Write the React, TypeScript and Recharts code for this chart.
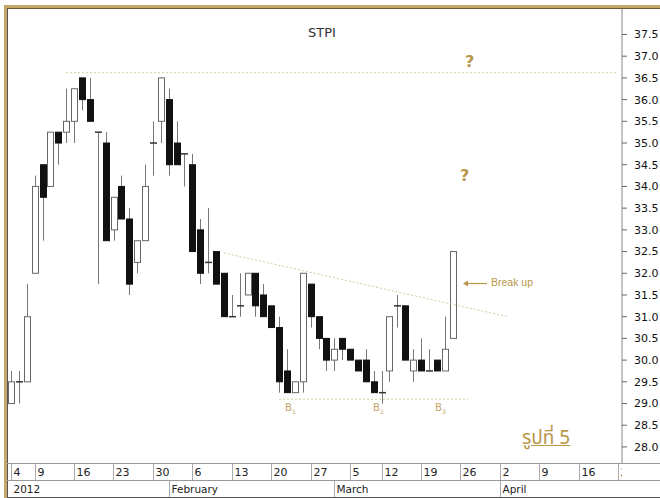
import { ComposedChart, Bar, XAxis, YAxis, ReferenceLine } from 'recharts';

// chart box
const W = 660;
const H = 498;
const PLOT_LEFT = 7;
const PLOT_TOP = 8;
const Y_AXIS_W = 38;
const X_ROW_H = 17;
const PLOT_RIGHT = W - Y_AXIS_W;
const PLOT_BOTTOM = H - 1 - 2 * X_ROW_H;

// daily STPI prices, trading days from 4 Jan 2012
const opens = [
  29.0, 29.5, 29.5, 32.0, 34.5, 34.0, 35.25, 35.25, 35.5, 36.5,
  36.0, 35.25, 35.0, 33.0, 34.0, 33.25, 32.25, 32.75, 35.0, 35.5,
  36.0, 35.0, 34.75, 34.5, 33.0, 32.25, 32.5, 32.0, 31.0, 31.25,
  31.5, 32.0, 31.5, 31.25, 30.75, 29.75, 29.25, 29.5, 31.75, 31.0,
  30.5, 30.0, 30.5, 30.25, 30.0, 30.0, 29.5, 29.25, 29.75, 31.25,
  31.25, 29.75, 30.0, 29.75, 30.0, 29.75, 30.5,
];
const highs = [
  29.75, 29.75, 31.75, 34.25, 34.5, 35.25, 35.25, 36.25, 36.25, 36.5,
  36.5, 35.25, 35.25, 33.75, 34.25, 33.5, 32.75, 34.5, 35.5, 36.5,
  36.25, 35.5, 34.75, 34.75, 33.25, 33.5, 32.5, 32.0, 31.5, 32.0,
  32.0, 32.0, 31.75, 31.25, 31.0, 30.25, 29.5, 32.0, 31.75, 31.0,
  30.5, 30.5, 30.5, 30.25, 30.0, 30.25, 29.75, 29.75, 31.0, 31.5,
  31.25, 30.25, 30.5, 30.25, 30.0, 31.0, 32.5,
];
const lows = [
  29.0, 29.0, 29.5, 32.0, 32.75, 34.0, 34.5, 35.0, 35.0, 35.75,
  35.5, 31.75, 32.75, 32.75, 33.25, 31.5, 32.0, 32.75, 34.25, 35.0,
  34.25, 34.5, 34.0, 32.5, 31.75, 32.0, 31.75, 31.0, 31.0, 31.0,
  31.5, 31.0, 31.0, 30.75, 29.25, 29.25, 29.25, 29.25, 30.75, 30.25,
  29.75, 29.75, 30.0, 30.0, 29.75, 29.5, 29.25, 29.0, 29.5, 30.75,
  30.0, 29.5, 29.75, 29.75, 29.75, 29.75, 30.5,
];
const closes = [
  29.5, 29.5, 31.0, 34.0, 33.75, 35.25, 35.0, 35.5, 36.25, 36.0,
  35.5, 35.25, 32.75, 33.75, 33.25, 31.75, 32.75, 34.0, 35.0, 36.5,
  34.5, 34.5, 34.75, 32.5, 32.0, 32.25, 31.75, 31.0, 31.0, 31.25,
  32.0, 31.25, 31.0, 30.75, 29.5, 29.25, 29.5, 32.0, 31.0, 30.5,
  30.0, 30.25, 30.25, 30.0, 29.75, 29.5, 29.25, 29.25, 31.0, 31.25,
  30.0, 30.0, 29.75, 29.75, 29.75, 30.25, 32.5,
];

// axis slots run on to late April
const TOTAL_DAYS = 78;
const weekTickIdx = [0, 3, 8, 13, 18, 23, 28, 33, 38, 43, 47, 52, 57, 62, 67, 72, 77];
const weekTickLabels = ['4', '9', '16', '23', '30', '6', '13', '20', '27', '5', '12', '19', '26', '2', '9', '16', '23'];
const monthTickIdx = [0, 20, 41, 62];
const monthTickLabels = ['2012', 'February', 'March', 'April'];
const priceTicks = [28.0, 28.5, 29.0, 29.5, 30.0, 30.5, 31.0, 31.5, 32.0, 32.5, 33.0, 33.5, 34.0, 34.5, 35.0, 35.5, 36.0, 36.5, 37.0, 37.5];
const Y_DOMAIN: [number, number] = [27.63, 38.11];
const minorTicks = Array.from({ length: 105 }, (_, k) => Math.round((27.7 + k * 0.1) * 10) / 10);

// guide lines drawn on the chart
const resistance = 36.62;
const trendStart = { i: 27, v: 32.47 };
const trendEnd = { i: 63, v: 31.0 };
const support = 29.1;
const supportFrom = 34;
const supportTo = 58;

const data = Array.from({ length: TOTAL_DAYS }, (_, i) =>
  i < opens.length
    ? { i, range: [lows[i], highs[i]], o: opens[i], h: highs[i], l: lows[i], c: closes[i] }
    : { i }
);

const GOLD = '#b8964a';
const GUIDE = '#d6c9a0';
const AXIS_FONT = '"DejaVu Sans", Verdana, sans-serif';

function Candle(props: any) {
  const { x, y, width, height, payload } = props;
  if (!payload || payload.o == null) return <g />;
  const top = Math.min(y, y + height);
  const h = Math.abs(height);
  const ppu = h / (payload.h - payload.l);
  const cx = Math.round(x + width / 2) + 0.5;
  const yOf = (v: number) => top + (payload.h - v) * ppu;
  const yo = yOf(payload.o);
  const yc = yOf(payload.c);
  const up = payload.c > payload.o;
  const bodyTop = Math.min(yo, yc);
  const bodyH = Math.abs(yo - yc);
  return (
    <g>
      <line x1={cx} x2={cx} y1={top} y2={top + h} stroke="#777" strokeWidth={1} />
      {bodyH < 1 ? (
        <line x1={cx - 3.5} x2={cx + 3.5} y1={yo} y2={yo} stroke="#333" strokeWidth={1.5} />
      ) : (
        <rect
          x={cx - 3}
          y={bodyTop}
          width={6}
          height={bodyH}
          fill={up ? '#fff' : '#111'}
          stroke={up ? '#666' : '#111'}
          strokeWidth={1}
        />
      )}
    </g>
  );
}

function WeekTick(props: any) {
  const { x, payload } = props;
  const k = weekTickIdx.indexOf(payload.value);
  if (k < 0) return <g />;
  const lx = Math.round(x) + 0.5;
  return (
    <g>
      <line x1={lx} x2={lx} y1={PLOT_BOTTOM} y2={PLOT_BOTTOM + X_ROW_H} stroke="#aaa" />
      <text x={lx + 2} y={PLOT_BOTTOM + 13} fontSize={11} fontFamily={AXIS_FONT} fill="#222" clipPath="url(#xclip)">
        {weekTickLabels[k]}
      </text>
    </g>
  );
}

function MonthTick(props: any) {
  const { x, payload } = props;
  const k = monthTickIdx.indexOf(payload.value);
  if (k < 0) return <g />;
  const lx = Math.round(x) + 0.5;
  return (
    <g>
      {k > 0 && <line x1={lx} x2={lx} y1={PLOT_BOTTOM + X_ROW_H} y2={PLOT_BOTTOM + 2 * X_ROW_H} stroke="#aaa" />}
      <text x={lx + 2} y={PLOT_BOTTOM + X_ROW_H + 13} fontSize={10.5} fontFamily={AXIS_FONT} fill="#222">
        {monthTickLabels[k]}
      </text>
    </g>
  );
}

const abs = (s: any) => ({ position: 'absolute' as const, ...s });

export default function App() {
  return (
    <div style={{ position: 'absolute', left: 0, top: 0, width: W, height: H, background: '#fff', overflow: 'hidden' }}>
      <svg width={0} height={0} style={{ position: 'absolute' }}>
        <defs>
          <clipPath id="xclip">
            <rect x={0} y={0} width={PLOT_RIGHT} height={H} />
          </clipPath>
        </defs>
      </svg>
      <ComposedChart
        width={W}
        height={H}
        data={data}
        margin={{ top: PLOT_TOP, right: 0, left: PLOT_LEFT, bottom: 1 }}
        barCategoryGap={0}
      >
        <XAxis
          dataKey="i"
          type="category"
          interval={0}
          height={X_ROW_H}
          axisLine={false}
          tickLine={false}
          tick={<WeekTick />}
        />
        <XAxis
          xAxisId="m"
          dataKey="i"
          type="category"
          interval={0}
          height={X_ROW_H}
          axisLine={false}
          tickLine={false}
          tick={<MonthTick />}
        />
        <YAxis
          yAxisId="minor"
          orientation="right"
          domain={Y_DOMAIN}
          type="number"
          allowDataOverflow
          ticks={minorTicks}
          width={0}
          axisLine={false}
          tickSize={2}
          tickLine={{ stroke: '#999' }}
          tick={() => <g />}
        />
        <YAxis
          yAxisId="p"
          orientation="right"
          domain={Y_DOMAIN}
          type="number"
          allowDataOverflow
          ticks={priceTicks}
          width={Y_AXIS_W}
          axisLine={{ stroke: '#888' }}
          tickSize={5}
          tickMargin={7}
          tickLine={{ stroke: '#666' }}
          tick={{ fontSize: 11, fontFamily: AXIS_FONT, fill: '#111' }}
          tickFormatter={(v: number) => v.toFixed(1)}
        />
        <ReferenceLine
          yAxisId="p"
          segment={[{ x: 7, y: resistance }, { x: TOTAL_DAYS - 1, y: resistance }]}
          stroke={GUIDE}
          strokeDasharray="2 2"
          ifOverflow="visible"
        />
        <ReferenceLine
          yAxisId="p"
          segment={[{ x: trendStart.i, y: trendStart.v }, { x: trendEnd.i, y: trendEnd.v }]}
          stroke={GUIDE}
          strokeDasharray="2 2"
          ifOverflow="visible"
        />
        <ReferenceLine
          yAxisId="p"
          segment={[{ x: supportFrom, y: support }, { x: supportTo, y: support }]}
          stroke={GUIDE}
          strokeDasharray="2 2"
          ifOverflow="visible"
        />
        <Bar yAxisId="p" dataKey="range" shape={<Candle />} isAnimationActive={false} />
      </ComposedChart>

      {/* frame */}
      <div style={abs({ left: 4, top: 5, width: W - 4, height: 3, background: '#c4a86a' })} />
      <div style={abs({ left: 4, top: 5, width: 3, height: H - 5, background: '#c4a86a' })} />
      <div style={abs({ left: 7, top: 8, width: W - 7, height: 1, background: '#6b5a3a' })} />
      <div style={abs({ left: 7, top: 8, width: 1, height: H - 8, background: '#555' })} />
      <div style={abs({ left: 7, top: PLOT_BOTTOM, width: W - 7, height: 1, background: '#999' })} />
      <div style={abs({ left: 7, top: PLOT_BOTTOM + X_ROW_H, width: W - 7, height: 1, background: '#999' })} />
      <div style={abs({ left: 7, top: PLOT_BOTTOM + 2 * X_ROW_H, width: W - 7, height: 1, background: '#555' })} />

      {/* annotations */}
      <div style={abs({ left: 308, top: 25, fontSize: 13, fontFamily: AXIS_FONT, color: '#333' })}>STPI</div>
      <div style={abs({ left: 465, top: 52, fontSize: 16, fontWeight: 'bold', fontFamily: AXIS_FONT, color: GOLD })}>?</div>
      <div style={abs({ left: 460, top: 166, fontSize: 16, fontWeight: 'bold', fontFamily: AXIS_FONT, color: GOLD })}>?</div>
      <svg style={abs({ left: 463, top: 279 })} width={26} height={9}>
        <line x1={3} x2={24} y1={4.5} y2={4.5} stroke={GOLD} strokeWidth={1.2} />
        <path d="M0 4.5 L5 1.5 L5 7.5 Z" fill={GOLD} />
      </svg>
      <div style={abs({ left: 491, top: 276, fontSize: 10.5, fontFamily: '"Liberation Sans", Arial, sans-serif', color: GOLD })}>Break up</div>
      <div style={abs({ left: 285, top: 402, fontSize: 10, fontFamily: AXIS_FONT, color: '#c4a466' })}>
        B<sub style={{ fontSize: 6 }}>1</sub>
      </div>
      <div style={abs({ left: 373, top: 402, fontSize: 10, fontFamily: AXIS_FONT, color: '#c4a466' })}>
        B<sub style={{ fontSize: 6 }}>2</sub>
      </div>
      <div style={abs({ left: 435, top: 402, fontSize: 10, fontFamily: AXIS_FONT, color: '#c4a466' })}>
        B<sub style={{ fontSize: 6 }}>3</sub>
      </div>
      <div
        style={abs({
          left: 522,
          top: 426,
          fontSize: 19,
          fontFamily: '"Noto Sans Thai", "Noto Sans", "DejaVu Sans", sans-serif',
          color: GOLD,
          textDecoration: 'underline',
          lineHeight: '26px',
        })}
      >
        รูปที่ 5
      </div>
    </div>
  );
}
